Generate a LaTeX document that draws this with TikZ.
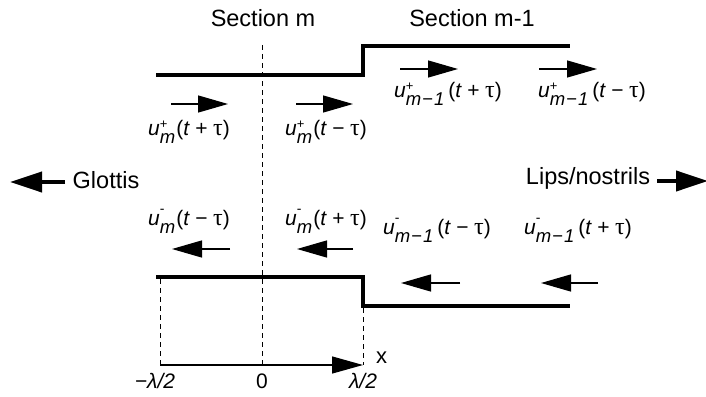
\documentclass[tikz,border=0pt]{standalone}
\usepackage{fontspec}
\setmainfont{Liberation Sans}
\newfontfamily\taufont{Liberation Serif}
\usetikzlibrary{arrows.meta}
\newcommand\supp{\raisebox{7pt}{\fontsize{13}{13}\selectfont\upshape +}}
\newcommand\supm{\raisebox{12pt}{\fontsize{14}{14}\selectfont\upshape -}}
\newcommand\subm{m\hspace{-1pt}}
\newcommand\submm{m\hspace{1pt}{\upshape −}\hspace{1pt}1\hspace{2pt}}
\newcommand\wv[3]{{\fontsize{21}{21}\selectfont\itshape u\rlap{#1}\raisebox{-8pt}{\fontsize{18.5}{18.5}\selectfont #2}\upshape\hspace{2pt}(\textit{t}\hspace{5.5pt}#3\hspace{5.5pt}{\taufont\fontsize{24}{24}\selectfont τ})}}
\begin{document}
\begin{tikzpicture}[x=1pt,y=-1pt,
  wall/.style={line width=3.5pt,line cap=rect},
  guide/.style={line width=0.9pt,dash pattern=on 5pt off 4pt},
  flow/.style={line width=1.3pt,-{Triangle[length=30pt,width=17pt]}},
  bigflow/.style={line width=4pt,-{Triangle[length=32pt,width=20pt]}},
  axisflow/.style={line width=1.3pt,-{Triangle[length=31pt,width=17pt]}},
  lbl/.style={anchor=base,inner sep=0pt},
  txt/.style={anchor=base,inner sep=0pt,font=\fontsize{23.5}{23.5}\selectfont}]
\useasboundingbox (0,0) rectangle (706,396);
% walls
\coordinate (tw1) at (158,75); \coordinate (tw2) at (363,75);
\coordinate (tw3) at (363,46); \coordinate (tw4) at (568,46);
\coordinate (bw1) at (158,277); \coordinate (bw2) at (363,277);
\coordinate (bw3) at (363,306); \coordinate (bw4) at (568,306);
\draw[wall] (tw1) -- (tw2) -- (tw3) -- (tw4);
\draw[wall] (bw1) -- (bw2) -- (bw3) -- (bw4);
% guides
\coordinate (ctop) at (262,45); \coordinate (cbot) at (262,365);
\coordinate (lbot) at (160,365); \coordinate (ltop) at (160,279);
\coordinate (rbot) at (363,365); \coordinate (rtop) at (363,308);
\draw[guide] (ctop) -- (cbot);
\draw[guide] (ltop) -- (lbot);
\draw[guide] (rtop) -- (rbot);
\draw[axisflow] (lbot) -- (rbot);
% section titles
\node[txt] (secm) at (263,27) {Section m};
\node[txt] (secm1) at (472,27) {Section m-1};
% axis labels
\node[lbl,font=\fontsize{22}{22}\selectfont] (xl) at (381.5,363) {x};
\node[lbl,font=\fontsize{21}{21}\selectfont\itshape] (lmin) at (155,388) {−λ/2};
\node[lbl,font=\fontsize{21}{21}\selectfont] (zero) at (262,388) {0};
\node[lbl,font=\fontsize{21}{21}\selectfont\itshape] (lmax) at (363,388) {λ/2};
% glottis / lips
\node[txt] (glot) at (106,188) {Glottis};
\coordinate (ga) at (65,182); \coordinate (gb) at (10,182);
\draw[bigflow] (ga) -- (gb);
\node[txt] (lips) at (588,184) {Lips/nostrils};
\coordinate (la) at (657,181); \coordinate (lb) at (708,181);
\draw[bigflow] (la) -- (lb);
% forward waves, section m
\coordinate (a1s) at (171,104); \coordinate (a1e) at (228,104);
\coordinate (a2s) at (296,104); \coordinate (a2e) at (353,104);
\draw[flow] (a1s) -- (a1e);
\draw[flow] (a2s) -- (a2e);
\node[lbl] (f1) at (189,135) {\wv{\supp}{\subm}{+}};
\node[lbl] (f2) at (326,135) {\wv{\supp}{\subm}{−}};
% forward waves, section m-1
\coordinate (a3s) at (400,69); \coordinate (a3e) at (458,69);
\coordinate (a4s) at (539,69); \coordinate (a4e) at (597,69);
\draw[flow] (a3s) -- (a3e);
\draw[flow] (a4s) -- (a4e);
\node[lbl] (f3) at (448,97) {\wv{\supp}{\submm}{+}};
\node[lbl] (f4) at (592,97) {\wv{\supp}{\submm}{−}};
% backward waves, section m
\node[lbl] (b1) at (189,225) {\wv{\supm}{\subm}{−}};
\node[lbl] (b2) at (326,225) {\wv{\supm}{\subm}{+}};
\coordinate (a5s) at (230,249); \coordinate (a5e) at (172,249);
\coordinate (a6s) at (353,249); \coordinate (a6e) at (297,249);
\draw[flow] (a5s) -- (a5e);
\draw[flow] (a6s) -- (a6e);
% backward waves, section m-1
\node[lbl] (b3) at (437,234) {\wv{\supm}{\submm}{−}};
\node[lbl] (b4) at (578,234) {\wv{\supm}{\submm}{+}};
\coordinate (a7s) at (460,283); \coordinate (a7e) at (401,283);
\coordinate (a8s) at (598,283); \coordinate (a8e) at (541,283);
\draw[flow] (a7s) -- (a7e);
\draw[flow] (a8s) -- (a8e);
\end{tikzpicture}
\end{document}
